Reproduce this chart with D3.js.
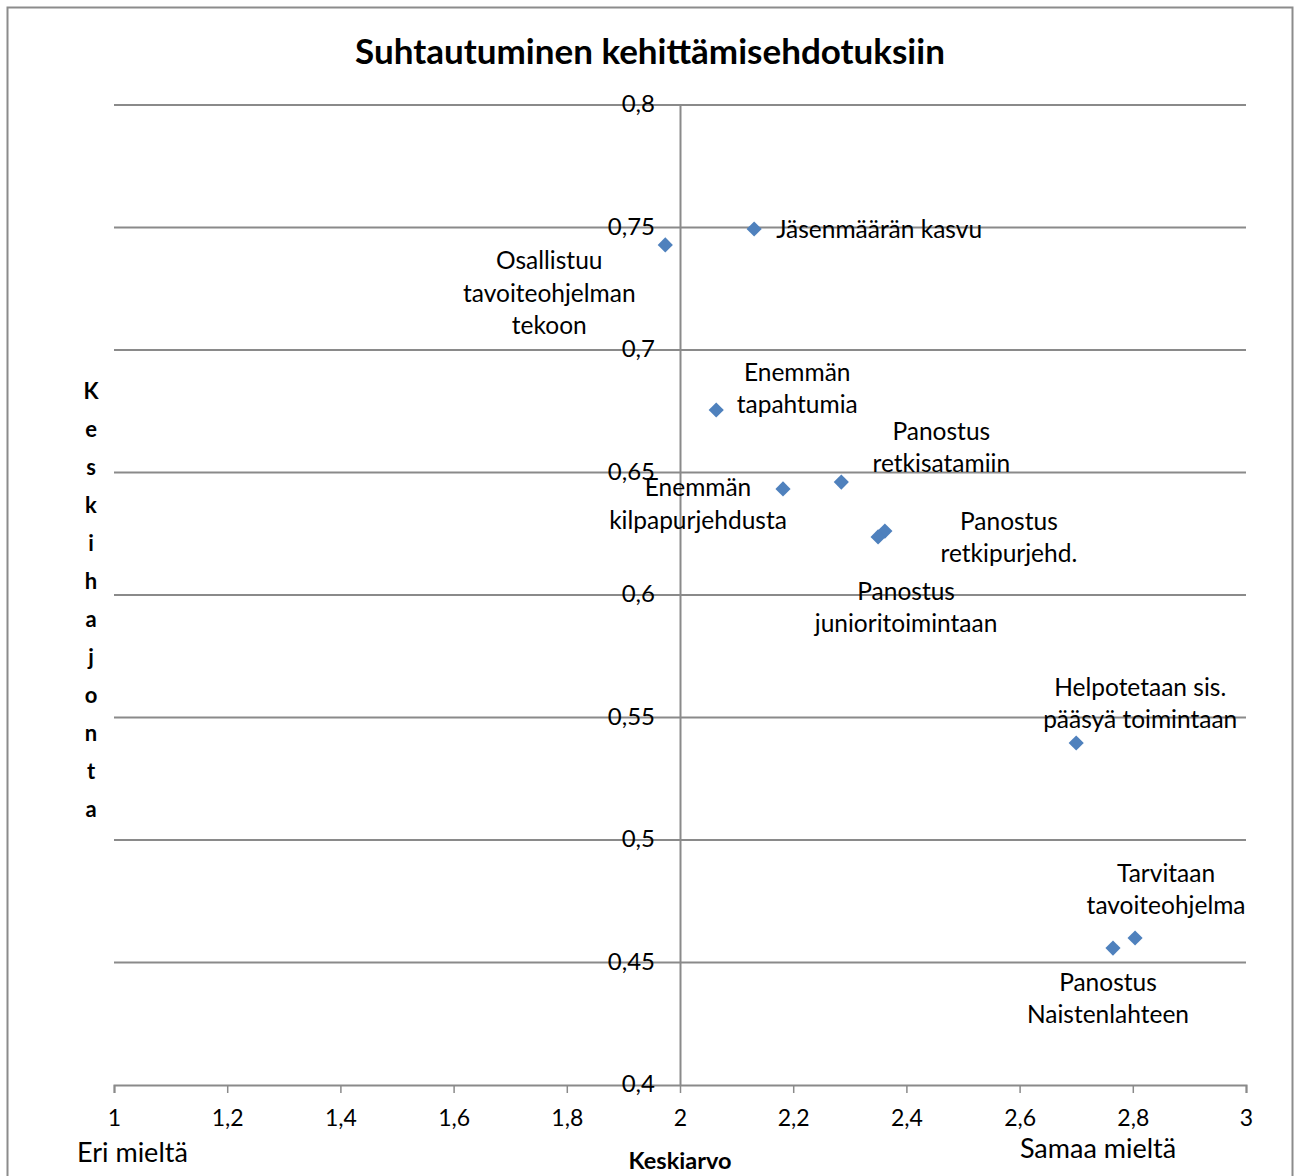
<!DOCTYPE html>
<html>
<head>
<meta charset="utf-8">
<script src="https://cdn.jsdelivr.net/npm/d3@7"></script>
<style>
  body { margin: 0; background: #fff; }
  svg text { font-family: Lato, "Open Sans", sans-serif; fill: #000; }
</style>
</head>
<body>
<div id="chart"></div>
<script>
// data
const names = [
  "Jäsenmäärän kasvu",
  "Osallistuu tavoiteohjelman tekoon",
  "Enemmän tapahtumia",
  "Enemmän kilpapurjehdusta",
  "Panostus retkisatamiin",
  "Panostus retkipurjehd.",
  "Panostus junioritoimintaan",
  "Helpotetaan sis. pääsyä toimintaan",
  "Tarvitaan tavoiteohjelma",
  "Panostus Naistenlahteen"
];
const labelLines = [
  ["Jäsenmäärän kasvu"],
  ["Osallistuu", "tavoiteohjelman", "tekoon"],
  ["Enemmän", "tapahtumia"],
  ["Enemmän", "kilpapurjehdusta"],
  ["Panostus", "retkisatamiin"],
  ["Panostus", "retkipurjehd."],
  ["Panostus", "junioritoimintaan"],
  ["Helpotetaan sis.", "pääsyä toimintaan"],
  ["Tarvitaan", "tavoiteohjelma"],
  ["Panostus", "Naistenlahteen"]
];
const keskiarvo = [2.131, 1.974, 2.064, 2.182, 2.285, 2.362, 2.350, 2.700, 2.804, 2.765];
const keskihajonta = [0.7494, 0.7429, 0.6755, 0.6433, 0.6461, 0.6261, 0.6237, 0.5396, 0.4600, 0.4559];
const xTicks = [1, 1.2, 1.4, 1.6, 1.8, 2, 2.2, 2.4, 2.6, 2.8, 3];
const yTicks = [0.4, 0.45, 0.5, 0.55, 0.6, 0.65, 0.7, 0.75, 0.8];

// label placement: offset of first line centre from the point (px)
const labelPos = [
  { dx: 22, dy: 0, anchor: "start" },
  { dx: -116, dy: 16, anchor: "middle" },
  { dx: 81, dy: -38, anchor: "middle" },
  { dx: -85, dy: -1, anchor: "middle" },
  { dx: 100, dy: -51, anchor: "middle" },
  { dx: 124, dy: -10, anchor: "middle" },
  { dx: 28, dy: 54, anchor: "middle" },
  { dx: 64, dy: -56, anchor: "middle" },
  { dx: 31, dy: -65, anchor: "middle" },
  { dx: -5, dy: 34, anchor: "middle" }
];

const W = 1299, H = 1176;
const fmt = v => String(v).replace(".", ",");

const svg = d3.select("#chart").append("svg")
  .attr("width", W).attr("height", H);

// chart frame
svg.append("rect")
  .attr("x", 7.5).attr("y", 7.5)
  .attr("width", 1285).attr("height", 1200)
  .attr("fill", "none").attr("stroke", "#8c8c8c").attr("stroke-width", 2);

const x = d3.scaleLinear().domain([1, 3]).range([114, 1246]);
const y = d3.scaleLinear().domain([0.4, 0.8]).range([1085, 105]);

// horizontal gridlines
svg.append("g")
  .selectAll("line")
  .data(yTicks.slice(1))
  .join("line")
  .attr("x1", x(1)).attr("x2", x(3))
  .attr("y1", d => y(d)).attr("y2", d => y(d))
  .attr("stroke", "#8a8a8a").attr("stroke-width", 2);

// x axis along y=0.4
const xAxis = svg.append("g")
  .attr("transform", `translate(0,${y(0.4)})`)
  .call(d3.axisBottom(x).tickValues(xTicks).tickFormat(fmt).tickSize(8).tickPadding(17));
xAxis.select(".domain").attr("stroke", "#8a8a8a").attr("stroke-width", 2);
xAxis.selectAll(".tick line").attr("stroke", "#8a8a8a").attr("stroke-width", 1.5);
xAxis.selectAll(".tick text").attr("font-size", 23).attr("font-family", "Lato, sans-serif");

// y axis crossing at x=2
const yAxis = svg.append("g")
  .attr("transform", `translate(${x(2)},0)`)
  .call(d3.axisLeft(y).tickValues(yTicks).tickFormat(fmt).tickSize(0).tickPadding(25));
yAxis.select(".domain").attr("stroke", "#8a8a8a").attr("stroke-width", 2);
yAxis.selectAll(".tick text").attr("font-size", 24).attr("font-family", "Lato, sans-serif")
  .attr("dy", "0.28em");

// points
const pts = names.map((n, i) => ({ name: n, x: keskiarvo[i], y: keskihajonta[i], lines: labelLines[i], pos: labelPos[i] }));

svg.append("g")
  .selectAll("path")
  .data(pts)
  .join("path")
  .attr("transform", d => `translate(${x(d.x)},${y(d.y)}) rotate(45)`)
  .attr("d", d3.symbol().type(d3.symbolSquare).size(115))
  .attr("fill", "#4f81bd");

// data labels
const lineH = 32.5;
const lbl = svg.append("g")
  .selectAll("text")
  .data(pts)
  .join("text")
  .attr("font-size", 24.5)
  .attr("text-anchor", d => d.pos.anchor)
  .attr("x", d => x(d.x) + d.pos.dx)
  .attr("y", d => y(d.y) + d.pos.dy);
lbl.selectAll("tspan")
  .data(d => d.lines.map(l => ({ l, d })))
  .join("tspan")
  .attr("x", t => x(t.d.x) + t.d.pos.dx)
  .attr("dy", (t, i) => i === 0 ? "0.35em" : lineH)
  .text(t => t.l);

// title
svg.append("text")
  .attr("x", 650).attr("y", 64)
  .attr("text-anchor", "middle")
  .attr("font-size", 35).attr("font-weight", "bold")
  .text("Suhtautuminen kehittämisehdotuksiin");

// axis titles
svg.append("text")
  .attr("x", x(2)).attr("y", 1169)
  .attr("text-anchor", "middle")
  .attr("font-size", 23.5).attr("font-weight", "bold")
  .text("Keskiarvo");

const yTitle = "Keskihajonta".split("");
svg.append("g")
  .selectAll("text")
  .data(yTitle)
  .join("text")
  .attr("x", 91).attr("y", (d, i) => 399 + i * 38)
  .attr("text-anchor", "middle")
  .attr("font-size", 22).attr("font-weight", "bold")
  .text(d => d);

svg.append("text")
  .attr("x", 77).attr("y", 1162)
  .attr("font-size", 27)
  .text("Eri mieltä");
svg.append("text")
  .attr("x", 1098).attr("y", 1158)
  .attr("text-anchor", "middle")
  .attr("font-size", 27)
  .text("Samaa mieltä");
</script>
</body>
</html>
